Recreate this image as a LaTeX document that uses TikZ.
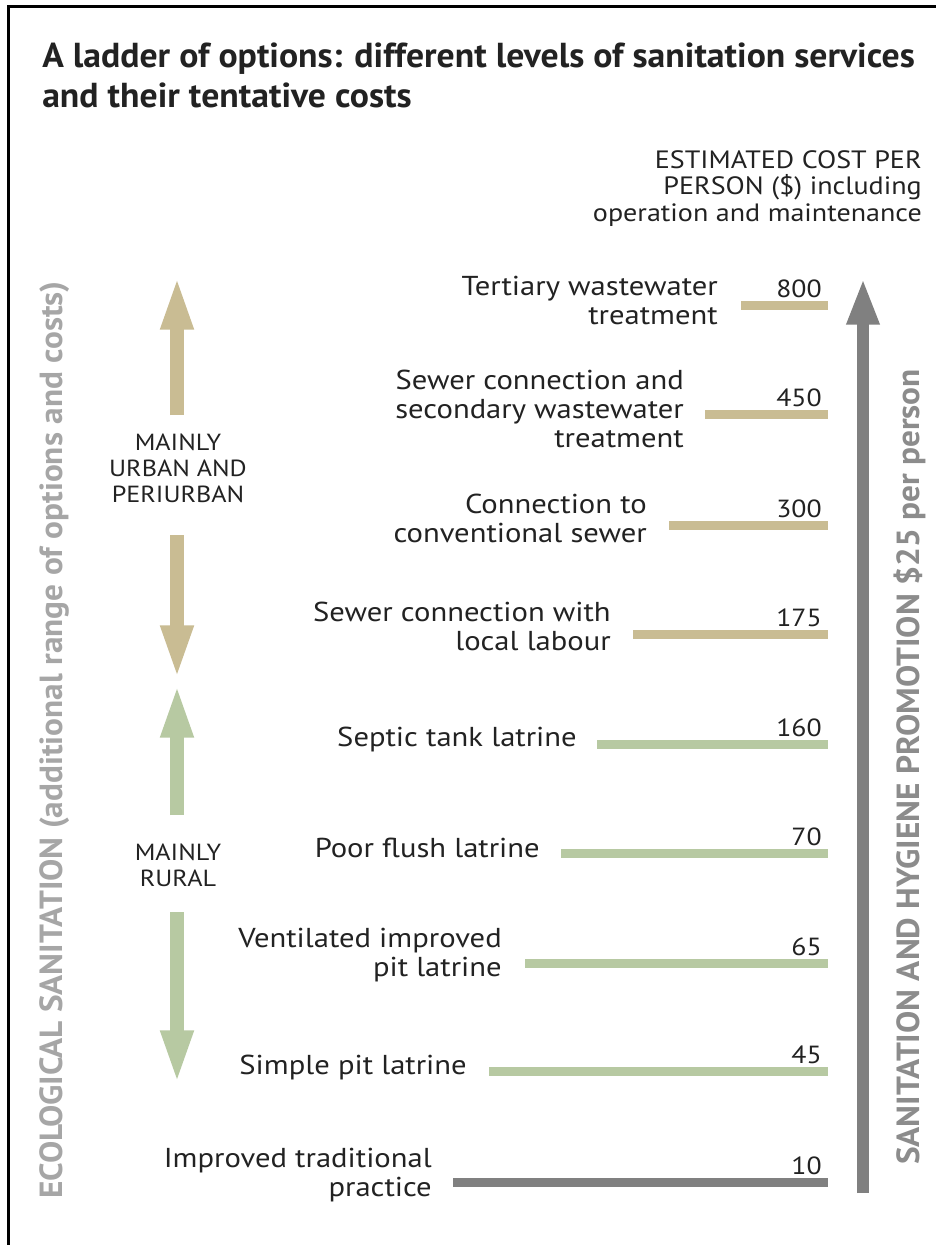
\documentclass[tikz,border=0pt]{standalone}
\usepackage{fontspec}
\setmainfont{PT Sans}
\newfontfamily\titlefont{PT Sans}[FakeStretch=1.03]
\newfontfamily\widefont{PT Sans}[FakeStretch=1.12]
\newfontfamily\sidefont{PT Sans}[FakeStretch=1.04]
\usetikzlibrary{arrows.meta}
\definecolor{txt}{HTML}{222222}
\definecolor{tan}{HTML}{C9BC93}
\definecolor{sage}{HTML}{B7C9A2}
\definecolor{midgray}{HTML}{808080}
\definecolor{ecogray}{HTML}{A6A6A6}
\definecolor{promgray}{HTML}{8C8C8C}
\tikzset{
  titletext/.style={anchor=base west, inner sep=0pt, text=txt, font=\titlefont\bfseries\fontsize{26}{30}\selectfont},
  headtext/.style={anchor=north east, inner sep=0pt, align=right, text=txt, font=\widefont\fontsize{18.8}{20}\selectfont},
  lbl/.style={anchor=east, inner sep=0pt, align=right, text=txt, font=\widefont\fontsize{20.5}{21.75}\selectfont},
  val/.style={anchor=base east, inner sep=0pt, text=txt, font=\widefont\fontsize{18.6}{20}\selectfont},
  zone/.style={anchor=center, inner sep=0pt, align=center, text=txt, font=\widefont\fontsize{17.5}{19.5}\selectfont},
  tanbar/.style={draw=tan, line width=6.75pt},
  sagebar/.style={draw=sage, line width=6.75pt},
  graybar/.style={draw=midgray, line width=6.75pt},
  tanarrow/.style={draw=tan, line width=11pt, -{Triangle[length=41pt,width=22pt]}},
  sagearrow/.style={draw=sage, line width=11pt, -{Triangle[length=41pt,width=22pt]}},
  bigarrow/.style={draw=midgray, line width=9pt, -{Triangle[length=35pt,width=22.5pt]}},
  sidetext/.style={rotate=90, anchor=center, inner sep=0pt, font=\sidefont\bfseries\fontsize{24}{26}\selectfont}
}
\begin{document}
\begin{tikzpicture}[x=0.75pt,y=-0.75pt]
\useasboundingbox (0,0) rectangle (936,1245);
\fill[white] (0,0) rectangle (936,1245);
% frame
\draw[black, line width=2.25pt] (8,1245) -- (8,7) -- (936,7);
% title
\node[titletext] (t1) at (42,68) {A ladder of options: different levels of sanitation services};
\node[titletext] (t2) at (42,108) {and their tentative costs};
% header
\node[headtext] (head) at (922,150) {ESTIMATED COST PER\\PERSON (\$) including\\operation and maintenance};
% side texts
\node[sidetext, text=ecogray] (eco) at (55,740) {ECOLOGICAL SANITATION (additional range of options and costs)};
\node[sidetext, text=promgray] (prom) at (910,767) {SANITATION AND HYGIENE PROMOTION \$25 per person};
% big arrow
\coordinate (pb) at (863,1193);
\coordinate (pt) at (863,278);
\draw[bigarrow] (pb) -- (pt);
% zone texts
\node[zone] (urban) at (178,468) {MAINLY\\URBAN AND\\PERIURBAN};
\node[zone] (rural) at (178,865) {MAINLY\\RURAL};
% tan arrows
\coordinate (ua1) at (177,415); \coordinate (ua2) at (177,275);
\coordinate (ud1) at (177,535); \coordinate (ud2) at (177,680);
\draw[tanarrow] (ua1) -- (ua2);
\draw[tanarrow] (ud1) -- (ud2);
% sage arrows
\coordinate (ra1) at (177,815); \coordinate (ra2) at (177,683);
\coordinate (rd1) at (177,912); \coordinate (rd2) at (177,1085);
\draw[sagearrow] (ra1) -- (ra2);
\draw[sagearrow] (rd1) -- (rd2);
% rungs
\coordinate (e1) at (828,305); \coordinate (s1) at (741,305);
\coordinate (e2) at (828,414); \coordinate (s2) at (705,414);
\coordinate (e3) at (828,525); \coordinate (s3) at (669,525);
\coordinate (e4) at (828,634); \coordinate (s4) at (633,634);
\coordinate (e5) at (828,744); \coordinate (s5) at (597,744);
\coordinate (e6) at (828,853); \coordinate (s6) at (561,853);
\coordinate (e7) at (828,963); \coordinate (s7) at (525,963);
\coordinate (e8) at (828,1071); \coordinate (s8) at (489,1071);
\coordinate (e9) at (828,1182); \coordinate (s9) at (453,1182);
\draw[tanbar] (s1) -- (e1);
\draw[tanbar] (s2) -- (e2);
\draw[tanbar] (s3) -- (e3);
\draw[tanbar] (s4) -- (e4);
\draw[sagebar] (s5) -- (e5);
\draw[sagebar] (s6) -- (e6);
\draw[sagebar] (s7) -- (e7);
\draw[sagebar] (s8) -- (e8);
\draw[graybar] (s9) -- (e9);
% values
\node[val] (v1) at (822,297) {800};
\node[val] (v2) at (822,406) {450};
\node[val] (v3) at (822,517) {300};
\node[val] (v4) at (822,626) {175};
\node[val] (v5) at (822,736) {160};
\node[val] (v6) at (822,845) {70};
\node[val] (v7) at (822,955) {65};
\node[val] (v8) at (822,1063) {45};
\node[val] (v9) at (822,1174) {10};
% labels
\node[lbl] (l1) at (718,300) {Tertiary wastewater\\treatment};
\node[lbl] (l2) at (684,409) {Sewer connection and\\secondary wastewater\\treatment};
\node[lbl] (l3) at (647,518) {Connection to\\conventional sewer};
\node[lbl] (l4) at (611,626) {Sewer connection with\\local labour};
\node[lbl] (l5) at (577,739) {Septic tank latrine};
\node[lbl] (l6) at (540,848) {Poor flush latrine};
\node[lbl] (l7) at (502,955) {Ventilated improved\\pit latrine};
\node[lbl] (l8) at (467,1067) {Simple pit latrine};
\node[lbl] (l9) at (432,1175) {Improved traditional\\practice};
\end{tikzpicture}
\end{document}
